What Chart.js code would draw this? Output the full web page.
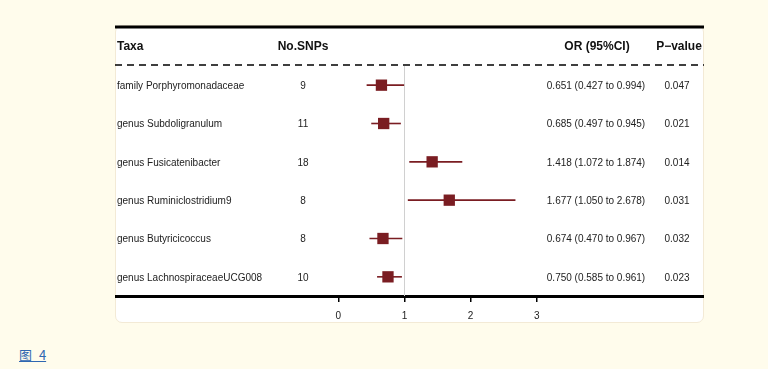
<!DOCTYPE html>
<html>
<head>
<meta charset="utf-8">
<script src="https://cdn.jsdelivr.net/npm/chart.js@4/dist/chart.umd.min.js"></script>
<style>
  html, body { margin: 0; padding: 0; }
  body { width: 768px; height: 369px; background: #fffcec; position: relative; overflow: hidden; font-family: "Liberation Sans", Arial, sans-serif; }
  #card { position: absolute; left: 115px; top: 25px; width: 589px; height: 298px; box-sizing: border-box;
          background: #fff; border: 1px solid #f3ead6; border-radius: 7px; }
  #forest { position: absolute; left: 115px; top: 25px; }
  #caption { position: absolute; left: 19px; top: 345px; font-family: "Noto Sans CJK SC", sans-serif; font-size: 13px;
             color: #2f67b1; text-decoration: underline; word-spacing: 4px; }
</style>
</head>
<body>
<div id="card"></div>
<canvas id="forest" width="589" height="298"></canvas>
<a id="caption" href="#">图 4</a>
<script>
// forest plot data
const taxa = [
  "family Porphyromonadaceae",
  "genus Subdoligranulum",
  "genus Fusicatenibacter",
  "genus Ruminiclostridium9",
  "genus Butyricicoccus",
  "genus LachnospiraceaeUCG008"
];
const snps = [9, 11, 18, 8, 8, 10];
const orValues = [0.651, 0.685, 1.418, 1.677, 0.674, 0.750];
const ciLow = [0.427, 0.497, 1.072, 1.050, 0.470, 0.585];
const ciHigh = [0.994, 0.945, 1.874, 2.678, 0.967, 0.961];
const pValues = ["0.047", "0.021", "0.014", "0.031", "0.032", "0.023"];
const xTicks = [0, 1, 2, 3];
const headers = ["Taxa", "No.SNPs", "OR (95%CI)", "P\u2212value"];

const dark = "#7a1d22";

const tablePlugin = {
  id: "table",
  afterDraw(chart) {
    const ctx = chart.ctx;
    const y = chart.scales.y;
    const w = chart.width;
    ctx.save();
    // thick top rule
    ctx.strokeStyle = "#000";
    ctx.lineWidth = 3;
    ctx.beginPath(); ctx.moveTo(0, 2); ctx.lineTo(w, 2); ctx.stroke();
    // dashed rule under header
    ctx.lineWidth = 1.5;
    ctx.setLineDash([7, 5]);
    ctx.beginPath(); ctx.moveTo(0, 40); ctx.lineTo(w, 40); ctx.stroke();
    ctx.setLineDash([]);

    ctx.fillStyle = "#111";
    ctx.textBaseline = "middle";
    ctx.font = "bold 12px 'Liberation Sans', Arial, sans-serif";
    ctx.textAlign = "left";
    ctx.fillText(headers[0], 2, 22);
    ctx.textAlign = "center";
    ctx.fillText(headers[1], 188, 22);
    ctx.fillText(headers[2], 482, 22);
    ctx.fillText(headers[3], 564, 22);

    ctx.font = "10px 'Liberation Sans', Arial, sans-serif";
    ctx.fillStyle = "#222";
    taxa.forEach((t, i) => {
      const py = y.getPixelForValue(i) + 1;
      ctx.textAlign = "left";
      ctx.fillText(t, 2, py);
      ctx.textAlign = "center";
      ctx.fillText(String(snps[i]), 188, py);
      ctx.fillText(orValues[i].toFixed(3) + " (" + ciLow[i].toFixed(3) + " to " + ciHigh[i].toFixed(3) + ")", 481, py);
      ctx.fillText(pValues[i], 562, py);
    });
    ctx.restore();
  }
};

const whiskers = taxa.map((t, i) => ({
  data: [{ x: ciLow[i], y: i }, { x: ciHigh[i], y: i }],
  showLine: true,
  borderColor: dark,
  borderWidth: 1.6,
  pointRadius: 0,
  order: 1
}));

new Chart(document.getElementById("forest"), {
  type: "scatter",
  data: {
    datasets: [
      {
        data: orValues.map((v, i) => ({ x: v, y: i })),
        pointStyle: "rect",
        pointRadius: 8,
        backgroundColor: dark,
        borderColor: dark,
        borderWidth: 0,
        order: 0
      },
      ...whiskers,
      {
        data: [{ x: 1, y: -0.5 }, { x: 1, y: 5.5 }],
        showLine: true,
        borderColor: "#d0d0d0",
        borderWidth: 1,
        pointRadius: 0,
        order: 2
      }
    ]
  },
  options: {
    responsive: false,
    animation: false,
    layout: { autoPadding: false, padding: { top: 41, left: 0, right: 0, bottom: 0 } },
    plugins: { legend: { display: false }, tooltip: { enabled: false } },
    scales: {
      x: {
        type: "linear",
        min: -3.379,
        max: 5.530,
        afterBuildTicks: axis => { axis.ticks = xTicks.map(v => ({ value: v })); },
        afterFit: s => { s.height = 27; },
        ticks: { color: "#222", font: { size: 10, family: "'Liberation Sans', Arial, sans-serif" }, padding: 8 },
        grid: { drawOnChartArea: false, drawTicks: true, tickLength: 6, color: "#000", lineWidth: 1.5 },
        border: { color: "#000", width: 3 }
      },
      y: {
        display: false,
        min: -0.5,
        max: 5.5,
        reverse: true
      }
    }
  },
  plugins: [tablePlugin]
});
</script>
</body>
</html>
